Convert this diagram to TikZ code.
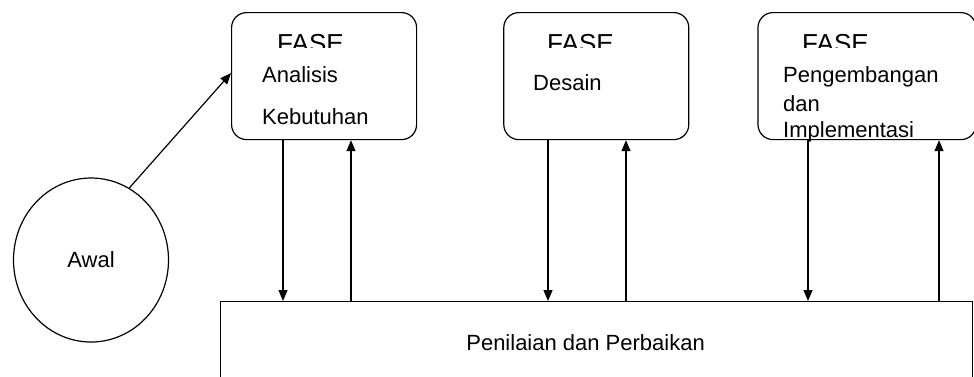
\documentclass[tikz,border=0pt]{standalone}
\usepackage{fontspec}
\setmainfont{Liberation Sans}
\usetikzlibrary{arrows.meta,positioning,shapes.geometric}

\begin{document}
\begin{tikzpicture}[x=1pt,y=-1pt,
  fasebox/.style={draw,line width=1.2pt,rounded corners=15pt,anchor=north west,
    minimum height=127pt,inner sep=0pt},
  lbl/.style={anchor=base west,inner sep=0pt,font=\fontsize{22}{26}\selectfont},
  fase/.style={anchor=base west,inner sep=0pt,font=\fontsize{26}{30}\selectfont},
  ar/.style={line width=1.2pt,-{Triangle[length=11pt,width=9pt]}}
]
\clip (0,0) rectangle (974,376);
% phase boxes
\node[fasebox,minimum width=185pt] (p1) at (231,12) {};
\node[fasebox,minimum width=185pt,right=86pt of p1] (p2) {};
\node[fasebox,minimum width=218pt,right=68pt of p2] (p3) {};
% start and evaluation
\node[draw,ellipse,line width=1.2pt,minimum width=155pt,minimum height=164pt,
  inner sep=0pt,font=\fontsize{22}{26}\selectfont] (awal) at (91,260) {Awal};
\node[draw,line width=1.2pt,anchor=north west,minimum width=752pt,minimum height=82pt,
  font=\fontsize{22}{26}\selectfont] (pb) at (220,301) {\hspace*{-22pt}Penilaian dan Perbaikan};
% titles, cut off at the bottom
\foreach \b/\x in {p1/277,p2/547,p3/802}{
  \begin{scope}
    \clip (\x-5,25) rectangle (\x+90,47);
    \node[fase] (f\b) at (\x,52) {FASE};
  \end{scope}
}
\node[lbl] (a1) at (262,82) {Analisis};
\node[lbl] (a2) at (262,124) {Kebutuhan};
\node[lbl] (d1) at (533,90) {Desain};
\node[lbl] (g1) at (783,82) {Pengembangan};
\node[lbl] (g2) at (783,111) {dan};
\node[lbl] (g3) at (783,137) {Implementasi};
% connectors
\draw[ar] (awal.62) -- ([yshift=3pt]p1.west);
\foreach \b/\d/\u in {p1/283/351,p2/548/626,p3/808/939}{
  \draw[ar] (\b.south -| \d,0) -- (pb.north -| \d,0);
  \draw[ar] (pb.north -| \u,0) -- (\b.south -| \u,0);
}
\end{tikzpicture}
\end{document}
